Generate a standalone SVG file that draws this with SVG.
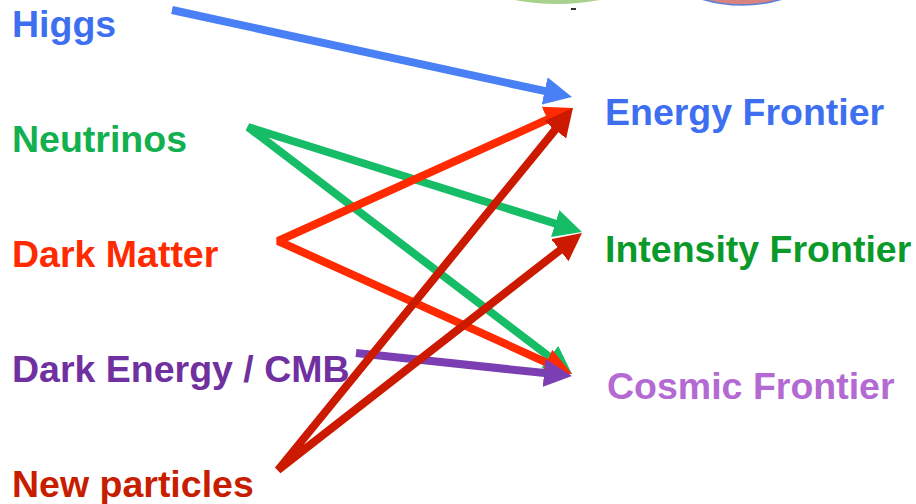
<svg xmlns="http://www.w3.org/2000/svg" width="916" height="504" viewBox="0 0 916 504">
<style>
.t{font-family:"Liberation Sans",Arial,sans-serif;font-weight:bold;font-size:37.5px}
.c{fill:none;stroke-width:8;stroke-linejoin:bevel;stroke-linecap:butt}
</style>
<defs>
<marker id="mb" viewBox="0 0 10 10" refX="2" refY="5" markerWidth="3.5" markerHeight="3.5" orient="auto-start-reverse"><path d="M0,0 L10,5 L0,10 z" fill="#4a80f5"/></marker>
<marker id="mg" viewBox="0 0 10 10" refX="2" refY="5" markerWidth="3.5" markerHeight="3.5" orient="auto-start-reverse"><path d="M0,0 L10,5 L0,10 z" fill="#16bd66"/></marker>
<marker id="mr" viewBox="0 0 10 10" refX="2" refY="5" markerWidth="3.5" markerHeight="3.5" orient="auto-start-reverse"><path d="M0,0 L10,5 L0,10 z" fill="#ff2a00"/></marker>
<marker id="mp" viewBox="0 0 10 10" refX="2" refY="5" markerWidth="3.5" markerHeight="3.5" orient="auto-start-reverse"><path d="M0,0 L10,5 L0,10 z" fill="#7b3fb3"/></marker>
<marker id="md" viewBox="0 0 10 10" refX="2" refY="5" markerWidth="3.5" markerHeight="3.5" orient="auto-start-reverse"><path d="M0,0 L10,5 L0,10 z" fill="#cc1a00"/></marker>
</defs>
<rect width="916" height="504" fill="#ffffff"/>
<g id="decor">
<circle cx="557" cy="-224" r="228" fill="#a9d18e"/>
<circle cx="742" cy="-135" r="140" fill="#d98282" stroke="#5b7fd6" stroke-width="1.5"/>
<rect x="571" y="8" width="5" height="2" fill="#333333"/>
</g>
<g id="connectors">
<path class="c" stroke="#4a80f5" d="M172,10 L550.1,92.2" marker-end="url(#mb)"/>
<path class="c" stroke="#16bd66" d="M560.6,225.3 L248,127 L554.2,360.4" marker-start="url(#mg)" marker-end="url(#mg)"/>
<path class="c" stroke="#ff2a00" d="M552.6,117.2 L278,241 L551.6,364.8" marker-start="url(#mr)" marker-end="url(#mr)"/>
<path class="c" stroke="#7b3fb3" d="M356,353 L549.7,373.6" marker-end="url(#mp)"/>
<path class="c" stroke="#cc1a00" d="M558.8,125.4 L278,470 L564.3,246.8" marker-start="url(#md)" marker-end="url(#md)"/>
</g>
<g id="higgs"><text class="t" x="12" y="37" fill="#3d6ff0">Higgs</text></g>
<g id="neutrinos"><text class="t" x="12" y="152" fill="#12b04e">Neutrinos</text></g>
<g id="dark-matter"><text class="t" x="12" y="267" fill="#ff2a00">Dark Matter</text></g>
<g id="dark-energy"><text class="t" x="12" y="382" fill="#7030a0">Dark Energy / CMB</text></g>
<g id="new-particles"><text class="t" x="12" y="497" fill="#c81e00">New particles</text></g>
<g id="energy-frontier"><text class="t" x="605" y="125" fill="#3d6ff0">Energy Frontier</text></g>
<g id="intensity-frontier"><text class="t" x="605" y="262" fill="#0a9a2a">Intensity Frontier</text></g>
<g id="cosmic-frontier"><text class="t" x="607" y="399" fill="#b36ad2">Cosmic Frontier</text></g>
</svg>
